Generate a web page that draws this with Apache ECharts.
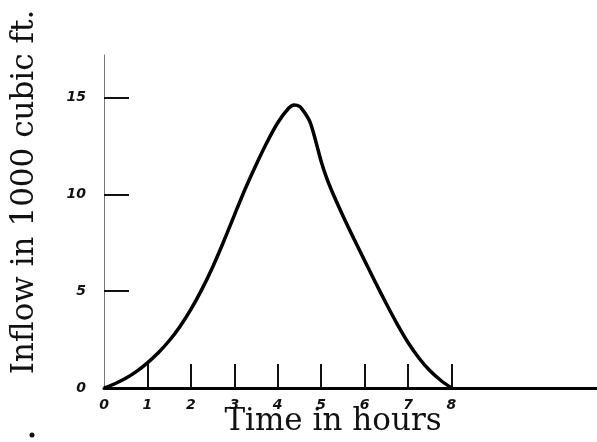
<!DOCTYPE html>
<html>
<head>
<meta charset="utf-8">
<script src="https://cdn.jsdelivr.net/npm/echarts@6/dist/echarts.min.js"></script>
<style>
html,body{margin:0;padding:0;background:#fff;}
#chart{width:597px;height:442px;}
</style>
</head>
<body>
<div id="chart"></div>
<script>
var hours = [0, 0.25, 0.5, 0.75, 1, 1.25, 1.5, 1.75, 2, 2.25, 2.5, 2.75, 3, 3.25, 3.5, 3.75, 4, 4.25, 4.375, 4.5, 4.625, 4.75, 4.875, 5, 5.125, 5.25, 5.5, 5.75, 6, 6.25, 6.5, 6.75, 7, 7.25, 7.5, 7.75, 8];
var inflow = [0, 0.22, 0.5, 0.86, 1.3, 1.82, 2.44, 3.18, 4.06, 5.08, 6.24, 7.54, 8.92, 10.28, 11.52, 12.68, 13.7, 14.45, 14.62, 14.55, 14.2, 13.7, 12.75, 11.7, 10.85, 10.15, 8.9, 7.72, 6.58, 5.45, 4.35, 3.3, 2.35, 1.55, 0.9, 0.4, 0];
var xTickValues = [1, 2, 3, 4, 5, 6, 7, 8];
var xLabelValues = [0, 1, 2, 3, 4, 5, 6, 7, 8];
var yTickValues = [5, 10, 15];
var yLabelValues = [0, 5, 10, 15];
var xTitle = 'Time in hours';
var yTitle = 'Inflow in 1000 cubic ft.';

var points = hours.map(function (h, i) { return [h, inflow[i]]; });

var chart = echarts.init(document.getElementById('chart'), null, {renderer: 'canvas'});
var labelFont = {
  fontFamily: 'DejaVu Sans',
  fontStyle: 'italic',
  fontWeight: 'bold',
  fontSize: 14,
  color: '#111'
};
chart.setOption({
  animation: false,
  backgroundColor: '#fff',
  grid: {left: 104, right: 0, top: 55, bottom: 54, containLabel: false},
  xAxis: {
    type: 'value',
    min: 0,
    max: 11.35,
    interval: 1,
    splitLine: {show: false},
    axisLine: {show: true, onZero: false, lineStyle: {color: '#000', width: 3}},
    axisTick: {show: true, inside: true, length: 24, customValues: xTickValues, lineStyle: {color: '#111', width: 2}},
    axisLabel: Object.assign({show: true, margin: 10, customValues: xLabelValues}, labelFont)
  },
  yAxis: {
    type: 'value',
    min: 0,
    max: 17.2,
    interval: 5,
    splitLine: {show: false},
    axisLine: {show: true, lineStyle: {color: '#777', width: 1}},
    axisTick: {show: true, inside: true, length: 25, customValues: yTickValues, lineStyle: {color: '#111', width: 2}},
    axisLabel: Object.assign({show: true, margin: 18, customValues: yLabelValues}, labelFont)
  },
  series: [{
    type: 'line',
    data: points,
    smooth: 0.3,
    showSymbol: false,
    symbol: 'none',
    lineStyle: {color: '#000', width: 3.5},
    z: 5
  }],
  graphic: [
    {
      type: 'text',
      x: 333, y: 422,
      style: {
        text: xTitle,
        fontFamily: 'DejaVu Serif',
        fontSize: 31,
        fill: '#111',
        align: 'center',
        verticalAlign: 'middle'
      }
    },
    {
      type: 'text',
      x: 25, y: 192,
      rotation: Math.PI / 2,
      style: {
        text: yTitle,
        fontFamily: 'DejaVu Serif',
        fontSize: 31,
        fill: '#111',
        align: 'center',
        verticalAlign: 'middle'
      }
    },
    {
      type: 'circle',
      shape: {cx: 32, cy: 435, r: 2.5},
      style: {fill: '#111'}
    }
  ]
});
</script>
</body>
</html>
